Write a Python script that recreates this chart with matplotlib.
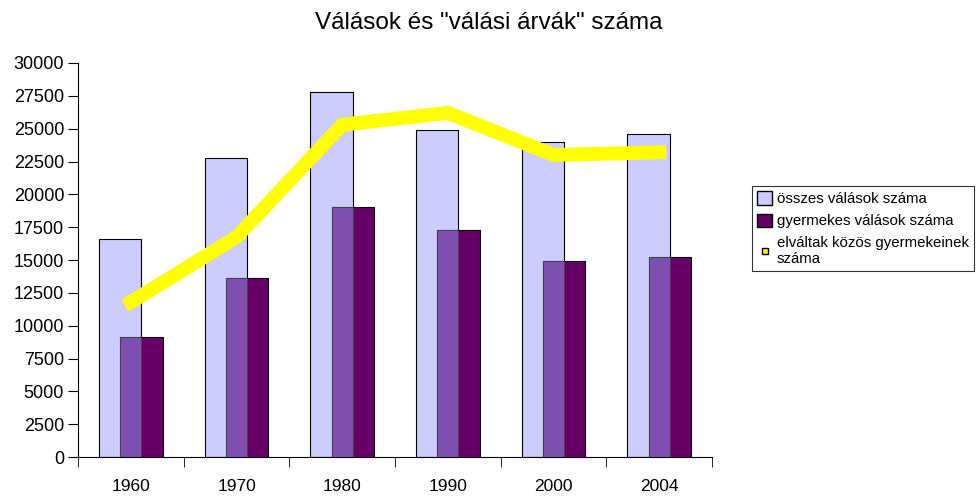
import numpy as np
import matplotlib.pyplot as plt
from matplotlib.patches import Patch
from matplotlib.lines import Line2D

plt.rcParams['font.family'] = ['Liberation Sans', 'DejaVu Sans']

# Adatok
years = ['1960', '1970', '1980', '1990', '2000', '2004']
osszes = [16600, 22800, 27800, 24900, 24000, 24600]
gyermekes = [9100, 13600, 19000, 17300, 14900, 15200]
arvak = [11800, 16750, 25300, 26200, 23000, 23200]

x = np.arange(len(years))
w = 0.4
off = 0.1

fig = plt.figure(figsize=(9.78, 4.98), dpi=100)
ax = fig.add_axes([0.0798, 0.0823, 0.6482, 0.7912])

ax.bar(x - off, osszes, w, color='#ccccff', edgecolor='black', linewidth=0.8, zorder=2)
ax.bar(x + off, gyermekes, w, color='#660066', edgecolor='black', linewidth=0.8, zorder=3)
# atfedo resz (3D hatas)
overlap = np.minimum(osszes, gyermekes)
ax.bar(x, overlap, w - 2 * off, color='#7f4fb0', edgecolor='#444444', linewidth=0.6, zorder=4)

ax.plot(x, arvak, color='#ffff00', linewidth=10, solid_joinstyle='miter', zorder=5)

ax.set_xlim(-0.5, 5.5)
ax.set_ylim(0, 30000)
ax.set_yticks(np.arange(0, 30001, 2500))
ax.set_xticks(x)
ax.set_xticklabels(years)
ax.set_xticks(np.arange(-0.5, 6, 1), minor=True)
ax.tick_params(axis='x', which='major', length=0, labelsize=12.5, pad=16)
ax.tick_params(axis='x', which='minor', length=7, direction='out')
ax.tick_params(axis='y', length=7, labelsize=13, pad=3)
ax.spines['top'].set_visible(False)
ax.spines['right'].set_visible(False)

fig.suptitle('Válások és "válási árvák" száma', fontsize=17.5, y=0.975)

handles = [Patch(facecolor='#ccccff', edgecolor='black'),
           Patch(facecolor='#660066', edgecolor='black'),
           Line2D([], [], marker='s', color='none', markerfacecolor='#ffff00',
                  markeredgecolor='black', markersize=4.5)]
labels = ['összes válások száma', 'gyermekes válások száma',
          'elváltak közös gyermekeinek\nszáma']
leg = fig.legend(handles, labels, loc='upper left', bbox_to_anchor=(752 / 978, 1 - 186 / 498),
                 fontsize=10.8, frameon=True, fancybox=False, edgecolor='black',
                 handlelength=1.0, handleheight=1.0, handletextpad=0.3,
                 borderpad=0.35, labelspacing=0.5, borderaxespad=0)
leg.get_frame().set_linewidth(0.8)

fig.savefig('out.png', dpi=100)
